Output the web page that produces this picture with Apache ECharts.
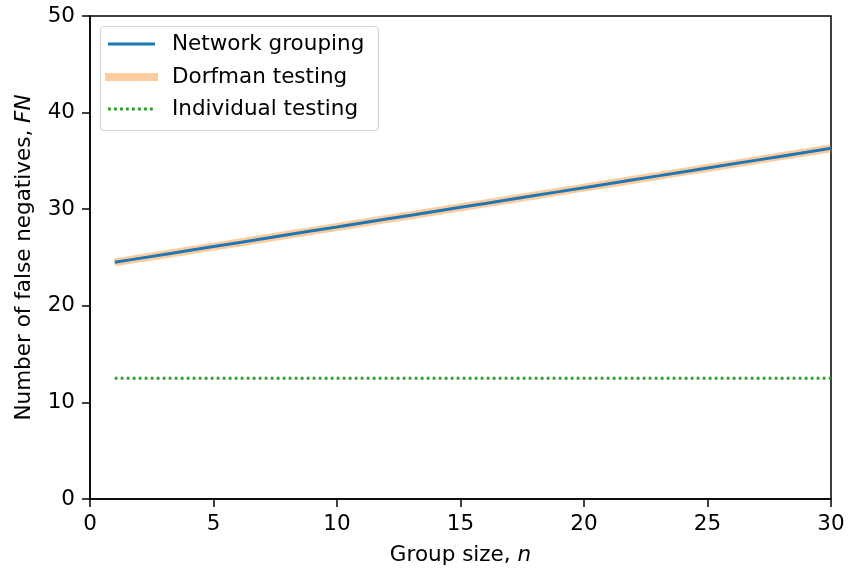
<!DOCTYPE html>
<html>
<head>
<meta charset="utf-8">
<script src="https://cdn.jsdelivr.net/npm/echarts@6/dist/echarts.min.js"></script>
<style>
html,body{margin:0;padding:0;background:#fff;}
#chart{width:849px;height:571px;}
</style>
</head>
<body>
<div id="chart"></div>
<script>
// Group sizes and false-negative counts per testing strategy
const groupSizes = [1,2,3,4,5,6,7,8,9,10,11,12,13,14,15,16,17,18,19,20,21,22,23,24,25,26,27,28,29,30];
const networkGrouping = [24.50,24.91,25.31,25.72,26.13,26.53,26.94,27.35,27.76,28.16,28.57,28.98,29.38,29.79,30.20,30.60,31.01,31.42,31.82,32.23,32.64,33.05,33.45,33.86,34.27,34.67,35.08,35.49,35.89,36.30];
const dorfmanTesting = [24.50,24.91,25.31,25.72,26.13,26.53,26.94,27.35,27.76,28.16,28.57,28.98,29.38,29.79,30.20,30.60,31.01,31.42,31.82,32.23,32.64,33.05,33.45,33.86,34.27,34.67,35.08,35.49,35.89,36.30];
const individualTesting = [12.5,12.5,12.5,12.5,12.5,12.5,12.5,12.5,12.5,12.5,12.5,12.5,12.5,12.5,12.5,12.5,12.5,12.5,12.5,12.5,12.5,12.5,12.5,12.5,12.5,12.5,12.5,12.5,12.5,12.5];
const legendNames = ['Network grouping', 'Dorfman testing', 'Individual testing'];

const FONT = 'DejaVu Sans';
const TICK_SIZE = 21.5, TITLE_SIZE = 21.5, LEGEND_SIZE = 21.5;
const pairs = ys => groupSizes.map((x, i) => [x, ys[i]]);

const chart = echarts.init(document.getElementById('chart'), null, {renderer: 'canvas'});

const titleRich = {
  t: {fontFamily: FONT, fontSize: TITLE_SIZE, color: '#000'},
  i: {fontFamily: FONT, fontSize: TITLE_SIZE, color: '#000', fontStyle: 'italic'}
};
const axisCommon = {
  axisLine: {show: true, onZero: false, lineStyle: {color: '#000', width: 1.5}},
  axisTick: {show: true, length: 8, lineStyle: {color: '#000', width: 1.5}},
  axisLabel: {color: '#000', fontFamily: FONT, fontSize: TICK_SIZE},
  splitLine: {show: false}
};

// Legend rows: line sample positions
const legendX0 = 108, legendX1 = 155, legendTextX = 172;
const rowY = [44, 77, 109];

chart.setOption({
  animation: false,
  backgroundColor: '#fff',
  grid: {left: 90, right: 18, top: 16, bottom: 72, containLabel: false, outerBoundsMode: 'none',
         show: true, borderColor: '#000', borderWidth: 1.5},
  xAxis: Object.assign({}, axisCommon, {
    type: 'value', min: 0, max: 30, interval: 5,
    axisLabel: Object.assign({}, axisCommon.axisLabel, {margin: 14}),
    name: '{t|Group size, }{i|n}', nameLocation: 'middle', nameGap: 45,
    nameTextStyle: {rich: titleRich}
  }),
  yAxis: Object.assign({}, axisCommon, {
    type: 'value', min: 0, max: 50, interval: 10,
    axisLabel: Object.assign({}, axisCommon.axisLabel, {margin: 15}),
    name: '{t|Number of false negatives, }{i|FN}', nameLocation: 'middle', nameGap: 55,
    nameTextStyle: {rich: titleRich}
  }),
  series: [
    {
      name: legendNames[1], type: 'line', data: pairs(dorfmanTesting),
      showSymbol: false, z: 2,
      lineStyle: {color: '#ff7f0e', opacity: 0.4, width: 8, cap: 'butt'}
    },
    {
      name: legendNames[0], type: 'line', data: pairs(networkGrouping),
      showSymbol: false, z: 3,
      lineStyle: {color: '#1f77b4', width: 3}
    },
    {
      name: legendNames[2], type: 'line', data: pairs(individualTesting),
      showSymbol: false, z: 3,
      lineStyle: {color: '#2ca02c', width: 2.8, type: [2.8, 3.2]}
    }
  ],
  graphic: [
    {type: 'rect', shape: {x: 100.5, y: 26.5, width: 278, height: 104, r: 4},
     style: {fill: 'rgba(255,255,255,0.85)', stroke: '#d5d5d5', lineWidth: 1.2}, z: 10},
    {type: 'line', shape: {x1: legendX0, y1: rowY[0], x2: legendX1, y2: rowY[0]},
     style: {stroke: '#1f77b4', lineWidth: 3}, z: 11},
    {type: 'line', shape: {x1: legendX0 - 3, y1: rowY[1], x2: legendX1 + 3, y2: rowY[1]},
     style: {stroke: '#ff7f0e', opacity: 0.4, lineWidth: 8}, z: 11},
    {type: 'line', shape: {x1: legendX0, y1: rowY[2], x2: legendX1, y2: rowY[2]},
     style: {stroke: '#2ca02c', lineWidth: 2.8, lineDash: [2.8, 3.2]}, z: 11},
    ...legendNames.map((name, i) => ({
      type: 'text', x: legendTextX, y: rowY[i], z: 11,
      style: {text: name, fontFamily: FONT, fontSize: LEGEND_SIZE, fill: '#000', verticalAlign: 'middle'}
    }))
  ]
});
</script>
</body>
</html>
